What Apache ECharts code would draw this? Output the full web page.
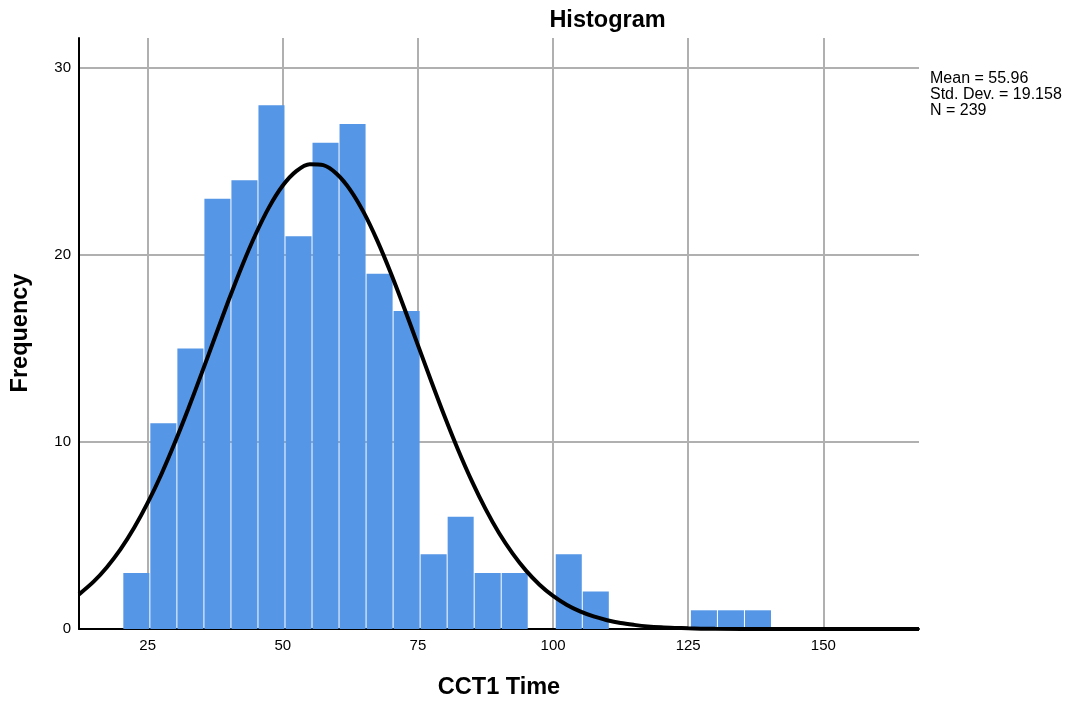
<!DOCTYPE html>
<html>
<head>
<meta charset="utf-8">
<script src="https://cdn.jsdelivr.net/npm/echarts@6/dist/echarts.min.js"></script>
<style>
html,body{margin:0;padding:0;background:#fff;}
#chart{width:1065px;height:703px;}
</style>
</head>
<body>
<div id="chart"></div>
<script>
// Histogram bins (lower edge) and counts
const binWidth = 5;
const binStarts = [20.5, 25.5, 30.5, 35.5, 40.5, 45.5, 50.5, 55.5, 60.5, 65.5, 70.5, 75.5, 80.5, 85.5, 90.5, 95.5, 100.5, 105.5, 110.5, 115.5, 120.5, 125.5, 130.5, 135.5];
const counts    = [3,    11,   15,   23,   24,   28,   21,   26,   27,   19,   17,   4,    6,    3,    3,    0,    4,     2,     0,     0,     0,     1,     1,     1];

// Normal curve
const curveX = [12.3, 15, 17.5, 20, 22.5, 25, 27.5, 30, 32.5, 35, 37.5, 40, 42.5, 45, 47.5, 50, 52.5, 55, 57.5, 60, 62.5, 65, 67.5, 70, 72.5, 75, 77.5, 80, 82.5, 85, 87.5, 90, 92.5, 95, 97.5, 100, 102.5, 105, 107.5, 110, 112.5, 115, 117.5, 120, 122.5, 125, 130, 140, 150, 167.7];
const curveY = [1.85, 2.53, 3.32, 4.27, 5.41, 6.74, 8.25, 9.94, 11.76, 13.68, 15.64, 17.59, 19.44, 21.12, 22.57, 23.71, 24.48, 24.85, 24.80, 24.33, 23.47, 22.26, 20.75, 19.02, 17.14, 15.18, 13.22, 11.32, 9.53, 7.89, 6.42, 5.13, 4.04, 3.12, 2.37, 1.77, 1.30, 0.94, 0.67, 0.47, 0.32, 0.22, 0.14, 0.09, 0.06, 0.04, 0.01, 0, 0, 0];

// Tick labels
const xTicks = [25, 50, 75, 100, 125, 150];
const statsLines = ['Mean = 55.96', 'Std. Dev. = 19.158', 'N = 239'];

const FONT = '"Liberation Sans", Arial, sans-serif';

const barData = binStarts.map((s, i) => [s, s + binWidth, counts[i]]).filter(d => d[2] > 0);
const curveData = curveX.map((x, i) => [x, curveY[i]]);

const chart = echarts.init(document.getElementById('chart'), null, {renderer: 'canvas'});
chart.setOption({
  animation: false,
  backgroundColor: '#fff',
  grid: {left: 79, right: 146, top: 38, bottom: 74, containLabel: false},
  xAxis: {
    type: 'value', min: 12.3, max: 167.7,
    axisLine: {show: true, onZero: false, lineStyle: {color: '#000', width: 2}},
    axisTick: {show: false, customValues: xTicks},
    axisLabel: {customValues: xTicks, color: '#000', fontSize: 15, fontFamily: FONT, margin: 9},
    splitLine: {show: true, lineStyle: {color: '#b0b0b0', width: 2}}
  },
  yAxis: {
    type: 'value', min: 0, max: 31.6, interval: 10,
    axisLine: {show: true, lineStyle: {color: '#000', width: 2}},
    axisTick: {show: false},
    axisLabel: {color: '#000', fontSize: 15, fontFamily: FONT, margin: 8,
      showMaxLabel: false},
    splitLine: {show: true, showMaxLine: false, lineStyle: {color: '#b0b0b0', width: 2}}
  },
  series: [
    {
      type: 'custom',
      data: barData,
      z: 3,
      renderItem: function (params, api) {
        const p0 = api.coord([api.value(0), api.value(2)]);
        const p1 = api.coord([api.value(1), 0]);
        return {
          type: 'rect',
          shape: {x: p0[0], y: p0[1], width: p1[0] - p0[0] - 1, height: p1[1] - p0[1]},
          style: {fill: '#5596e6'}
        };
      }
    },
    {
      type: 'line',
      data: curveData,
      z: 5,
      smooth: 0.3,
      symbol: 'none',
      clip: false,
      lineStyle: {color: '#000', width: 4}
    }
  ],
  graphic: [
    {type: 'text', x: 607.5, y: 20.5, z: 10,
      style: {text: 'Histogram', fontSize: 23.5, fontWeight: 'bold', fontFamily: FONT, fill: '#000', align: 'center', verticalAlign: 'middle'}},
    {type: 'text', x: 499, y: 688, z: 10,
      style: {text: 'CCT1 Time', fontSize: 23.5, fontWeight: 'bold', fontFamily: FONT, fill: '#000', align: 'center', verticalAlign: 'middle'}},
    {type: 'text', x: 21, y: 333, rotation: Math.PI / 2, z: 10,
      style: {text: 'Frequency', fontSize: 23.5, fontWeight: 'bold', fontFamily: FONT, fill: '#000', align: 'center', verticalAlign: 'middle'}},
    {type: 'text', x: 930, y: 71, z: 10,
      style: {text: statsLines.join('\n'), fontSize: 16, lineHeight: 16, fontFamily: FONT, fill: '#000', align: 'left', verticalAlign: 'top'}}
  ]
});
</script>
</body>
</html>
